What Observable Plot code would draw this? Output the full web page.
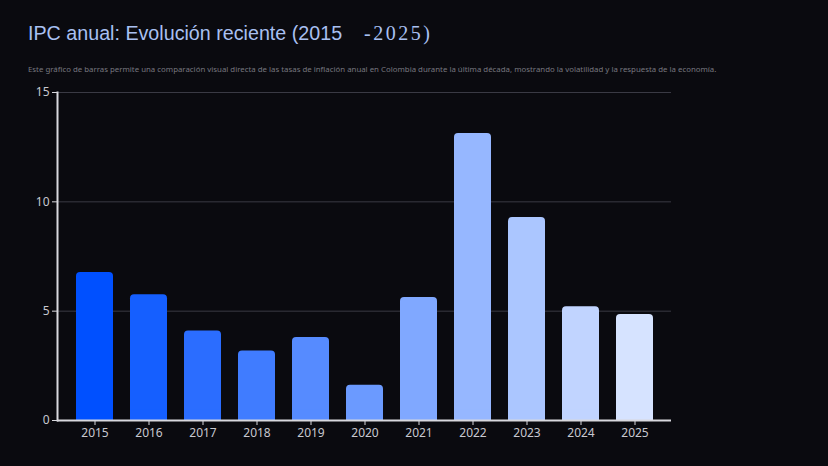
<!DOCTYPE html>
<html>
<head>
<meta charset="utf-8">
<script src="https://cdn.jsdelivr.net/npm/d3@7"></script>
<script src="https://cdn.jsdelivr.net/npm/@observablehq/plot@0.6"></script>
<style>
  html, body { margin: 0; padding: 0; background: #0a0a0f; }
  #wrap { width: 828px; height: 466px; overflow: hidden; background: #0a0a0f; }
  #title { position: relative; height: 84px; }
  #title h1 { position: absolute; left: 28px; top: 22px; margin: 0; font: 400 19.7px "Liberation Sans", Arial, sans-serif; color: #a9c0f2; white-space: pre; }
  #title h1 .s { font-family: "Liberation Serif", "DejaVu Serif", serif; letter-spacing: 2.5px; margin-left: 22px; font-size: 20px; }
  #title p { position: absolute; left: 28px; top: 64px; margin: 0; font: 400 7.85px "Noto Sans", sans-serif; color: #77777f; white-space: nowrap; }
</style>
</head>
<body>
<div id="wrap">
  <div id="title">
    <h1>IPC anual: Evolución reciente (2015<span class="s">-2025)</span></h1>
    <p>Este gráfico de barras permite una comparación visual directa de las tasas de inflación anual en Colombia durante la última década, mostrando la volatilidad y la respuesta de la economía.</p>
  </div>
  <div id="chart"></div>
</div>
<script>
const years = [2015, 2016, 2017, 2018, 2019, 2020, 2021, 2022, 2023, 2024, 2025];
const ipc = [6.77, 5.75, 4.09, 3.18, 3.80, 1.61, 5.62, 13.12, 9.28, 5.20, 4.85];
const yTicks = [0, 5, 10, 15];

const data = years.map((y, i) => ({year: String(y), yr: y, value: ipc[i]}));

const chart = Plot.plot({
  width: 828,
  height: 382,
  marginTop: 8,
  marginBottom: 46,
  marginLeft: 57,
  marginRight: 157,
  style: {background: "transparent", color: "#cfcfd6", fontFamily: "'Noto Sans', sans-serif", fontSize: "12px"},
  x: {domain: years.map(String), label: null, paddingInner: 0.32, paddingOuter: 0.26},
  y: {domain: [0, 15], label: null, ticks: yTicks},
  color: {type: "linear", domain: [2015, 2025], range: ["#0050ff", "#d6e3ff"], interpolate: "rgb"},
  marks: [
    Plot.gridY(yTicks.filter(d => d > 0), {stroke: "#3a3a44", strokeOpacity: 1, strokeWidth: 1}),
    Plot.barY(data, {x: "year", y: "value", fill: d => d.yr, rx: 4}),
    Plot.barY(data, {x: "year", y1: 0, y2: d => Math.min(d.value, 0.5), fill: d => d.yr}),
    Plot.axisY({ticks: yTicks, tickSize: 5, tickPadding: 3, stroke: "#d8d8de", fill: "#c8c8d0", fontSize: 12}),
    Plot.axisX({tickSize: 5, tickPadding: 3, stroke: "#d8d8de", fill: "#c8c8d0", fontSize: 12}),
    Plot.frame({anchor: "left", stroke: "#d8d8de", strokeWidth: 2}),
    Plot.ruleY([0], {stroke: "#d8d8de", strokeWidth: 2})
  ]
});
document.getElementById("chart").appendChild(chart);
</script>
</body>
</html>
